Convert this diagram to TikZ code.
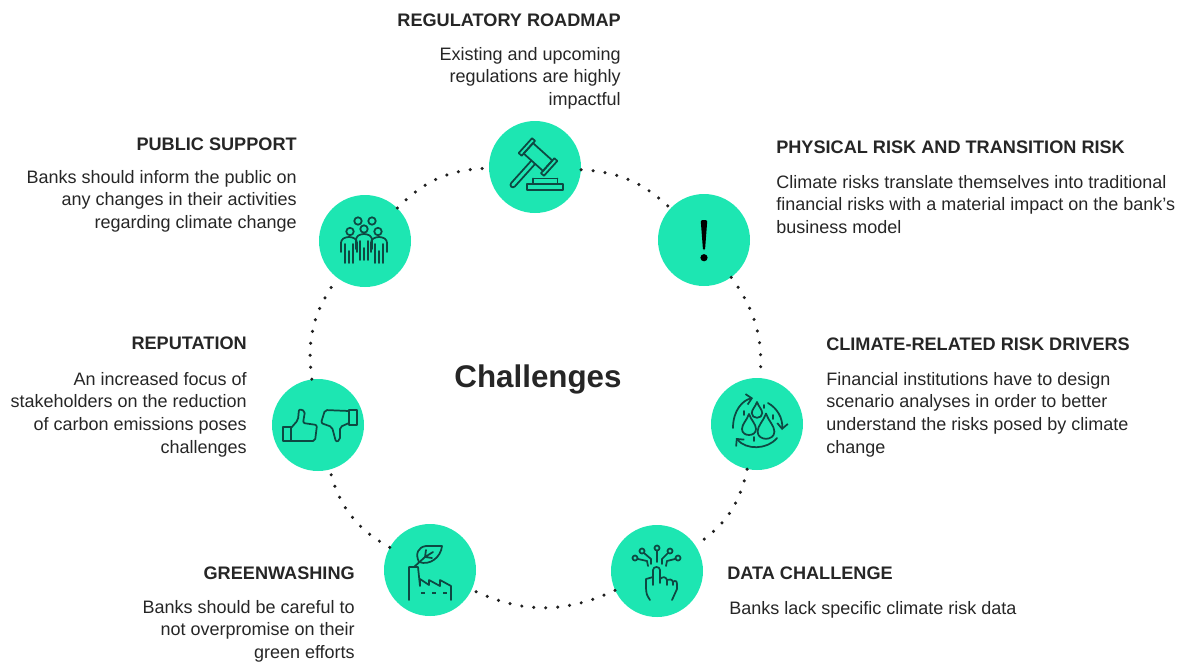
\documentclass[tikz,border=0pt]{standalone}
\usepackage{fontspec}
\setmainfont{Liberation Sans}
\usetikzlibrary{arrows.meta}
\definecolor{hubgreen}{RGB}{29,230,178}
\definecolor{icondark}{RGB}{14,72,66}
\definecolor{inktext}{RGB}{38,38,38}
\tikzset{
  hub_c/.style = {circle, fill=hubgreen, inner sep=0pt, minimum size=69pt},
  ringdots/.style = {line width=2.6pt, line cap=round, dash pattern=on 0pt off 9pt, color=inktext!85!black},
  head_l/.style = {anchor=west, inner sep=0pt, color=inktext, font=\fontsize{13.6}{17}\selectfont\bfseries},
  head_r/.style = {anchor=east, inner sep=0pt, color=inktext, font=\fontsize{13.6}{17}\selectfont\bfseries},
  body_l/.style = {anchor=north west, align=left, inner sep=0pt, color=inktext, font=\fontsize{13.5}{17}\selectfont},
  body_r/.style = {anchor=north east, align=right, inner sep=0pt, color=inktext, font=\fontsize{13.5}{17}\selectfont},
  iconline/.style = {draw=icondark, line width=1.3pt, line join=round, line cap=round},
}
\begin{document}
\begin{tikzpicture}[x=0.75pt, y=-0.75pt]
  \useasboundingbox (0,0) rectangle (1186,662);

  % hubs
  \node [hub_c] (gavel) at (535,167) {};
  \node [hub_c] (warn) at (704,240) {};
  \node [hub_c] (drops) at (757,424) {};
  \node [hub_c] (hand) at (657,571) {};
  \node [hub_c] (factory) at (430,570) {};
  \node [hub_c] (thumbs) at (318,425) {};
  \node [hub_c] (people) at (365,241) {};

  % ring
  \draw [ringdots] (gavel) to [bend left=20] (warn);
  \draw [ringdots] (warn) to [bend left=20] (drops);
  \draw [ringdots] (drops) to [bend left=22] (hand);
  \draw [ringdots] (hand) to [bend left=25] (factory);
  \draw [ringdots] (factory) to [bend left=23] (thumbs);
  \draw [ringdots] (thumbs) to [bend left=22] (people);
  \draw [ringdots] (people) to [bend left=22] (gavel);

  \node [inner sep=0pt, color=inktext, font=\fontsize{23.5}{28}\selectfont\bfseries] (title) at (538,379) {Challenges};

  % gavel
  \begin{scope}[shift={(gavel.center)}, iconline]
    \begin{scope}[shift={(3,-10)}, rotate=-42]
      \draw (-13,-7) rectangle (13,7);
      \draw (-17,-10) rectangle (-13,10);
      \draw (13,-10) rectangle (17,10);
      \draw [rounded corners=2pt] (-2.5,7) -- (-2.5,40) -- (2.5,40) -- (2.5,7);
    \end{scope}
    \draw (-8,17) rectangle (28,23);
    \draw (-2,11.5) -- (-2,17) (22.5,11.5) -- (22.5,17) (-2,11.5) -- (22.5,11.5);
  \end{scope}

  % exclamation mark
  \begin{scope}[shift={(warn.center)}]
    \fill [black, rounded corners=1pt] (-3.3,-20) -- (3.3,-20) -- (1,10) -- (-1,10) -- cycle;
    \fill [black] (0,17.7) circle (2.7pt);
  \end{scope}

  % drops and arrows
  \begin{scope}[shift={(drops.center)}, iconline]
    \foreach \dx/\dy/\ds in {0/-13/0.75, -8/2/1, 9/4/1.2} {
      \draw [shift={(\dx,\dy)}, scale=\ds] (0,-12) .. controls (2,-6) and (7,-2) .. (7,3) .. controls (7,11) and (-7,11) .. (-7,3) .. controls (-7,-2) and (-2,-6) .. (0,-12) -- cycle;
    }
    \draw [-{Straight Barb[length=4pt,width=8pt]}] (-24,4) .. controls (-24,-14) and (-14,-24) .. (-4,-26);
    \draw [-{Straight Barb[length=4pt,width=8pt]}] (11,-21) .. controls (20,-16) and (26,-6) .. (25,6);
    \draw [-{Straight Barb[length=4pt,width=8pt]}] (20,14) .. controls (10,26) and (-11,26) .. (-21,14);
    \draw (-13,-13) -- (-13,-9) (7,-19) -- (7,-16) (16,-9) -- (16,-5) (-3,13) -- (-3,17);
  \end{scope}

  % hand
  \begin{scope}[shift={(hand.center)}, iconline]
    \foreach \px/\py in {-22/-13, -15/-20, 0/-23, 13/-20, 21/-13} { \draw (\px,\py) circle (1.9pt); }
    \draw (0,-20) -- (0,-9);
    \draw (-13,-18) -- (-6,-12) -- (-6,-7);
    \draw (11,-18) -- (5,-12) -- (5,-7);
    \draw (-19,-12) -- (-10,-10) -- (-9,-5);
    \draw (18,-12) -- (10,-10) -- (9,-5);
    \draw (-7,29) .. controls (-10,24) and (-11,24) .. (-11,14) -- (-11,8) -- (-4,6) (-4,14) -- (-4,-1) .. controls (-4,-5) and (3,-5) .. (3,-1) -- (3,12)
      (3,8) .. controls (6,5) and (9,6) .. (10,9) -- (10,14) (10,9) .. controls (12,8) and (15,8) .. (16,11) -- (16,14)
      (16,11) .. controls (18,9) and (20,10) .. (20,13) -- (20,18) -- (15,29);
  \end{scope}

  % factory and leaf
  \begin{scope}[shift={(factory.center)}, iconline]
    \draw (-21,30) -- (-21,-3) -- (-12,-3) -- (-10,16) -- (-10,9) -- (-1,15) -- (-1,10) -- (10,16) -- (10,10) -- (21,16) -- (21,30);
    \draw [line width=1.7pt, line cap=butt] (-9,23) -- (-5,23) (2,23) -- (6,23) (13,23) -- (17,23);
    \draw (-16,-3) -- (-5,-13) -- (3,-18) (-5,-13) -- (2,-12) (-5,-13) -- (-4,-20);
    \draw (-11,-8) .. controls (-15,-16) and (-12,-23) .. (-4,-24) -- (12,-24) .. controls (11,-13) and (0,-4) .. (-11,-8);
  \end{scope}

  % thumbs
  \begin{scope}[shift={(thumbs.center)}, iconline]
    \draw (-35,2) rectangle (-27,16);
    \draw [rounded corners=1.5pt] (-27,3) -- (-20,-5) -- (-19,-16) -- (-13,-14) -- (-15,-2) -- (-1,0) -- (-3,16) -- (-27,16);
    \draw (31,-15) rectangle (39,0);
    \draw [rounded corners=1.5pt] (31,-14) -- (7,-15) -- (3,-2) -- (14,2) -- (18,17) -- (22,15) -- (22,2) -- (31,-2);
  \end{scope}

  % people
  \begin{scope}[shift={(people.center)}, iconline]
    \foreach \px/\py in {-7/-20, 7/-20, -1/-12, -15/-9.5, 13/-9.5} { \draw (\px,\py) circle (2.8pt); }
    \foreach \px/\py in {-16/-4, 14/-4, -1/-7} {
      \draw [shift={(\px,\py)}, rounded corners=2pt] (-8,15) -- (-8,3) -- (-3,0) -- (3,0) -- (8,3) -- (8,15)
        (-4,7) -- (-4,26) (4,7) -- (4,26) (0,14) -- (0,26);
    }
  \end{scope}

  % texts
  \node [head_r] (reghead) at (621,20) {REGULATORY ROADMAP};
  \node [body_r] (regbody) at (621,47) {Existing and upcoming\\regulations are highly\\impactful};

  \node [head_r] (pubhead) at (297,144) {PUBLIC SUPPORT};
  \node [body_r] (pubbody) at (297,170) {Banks should inform the public on\\any changes in their activities\\regarding climate change};

  \node [head_l] (phyhead) at (776,147) {PHYSICAL RISK AND TRANSITION RISK};
  \node [body_l] (phybody) at (776,175) {Climate risks translate themselves into traditional\\financial risks with a material impact on the bank’s\\business model};

  \node [head_l] (clihead) at (826,344) {CLIMATE-RELATED RISK DRIVERS};
  \node [body_l] (clibody) at (826,372) {Financial institutions have to design\\scenario analyses in order to better\\understand the risks posed by climate\\change};

  \node [head_r] (rephead) at (247,343) {REPUTATION};
  \node [body_r] (repbody) at (247,372) {An increased focus of\\stakeholders on the reduction\\of carbon emissions poses\\challenges};

  \node [head_l] (dathead) at (727,573) {DATA CHALLENGE};
  \node [body_l] (datbody) at (729,601) {Banks lack specific climate risk data};

  \node [head_r] (grehead) at (355,573) {GREENWASHING};
  \node [body_r] (grebody) at (355,600) {Banks should be careful to\\not overpromise on their\\green efforts};
\end{tikzpicture}
\end{document}
